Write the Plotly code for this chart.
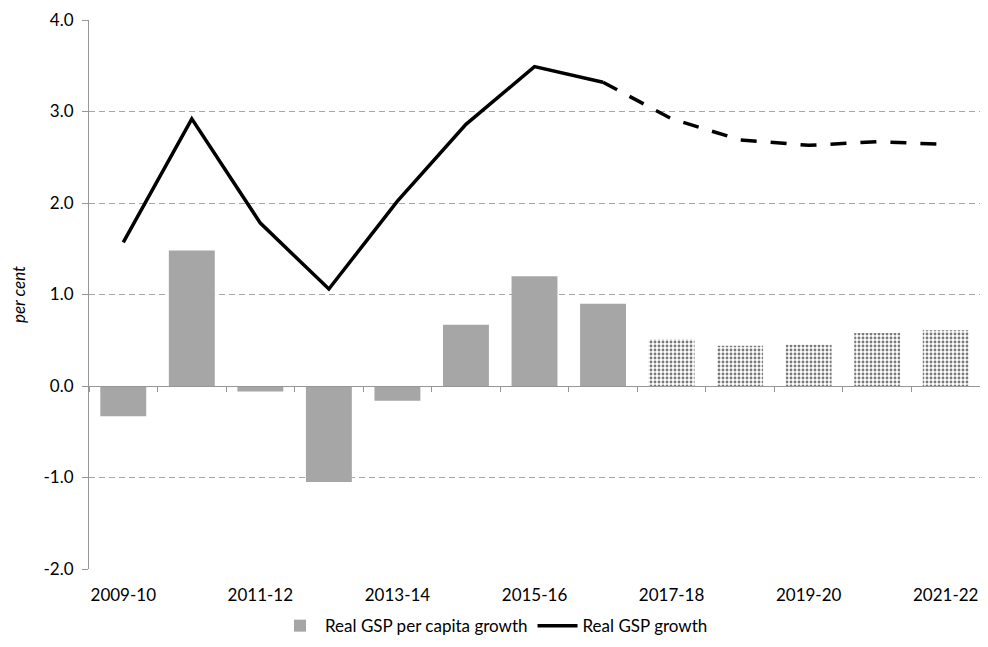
import plotly.graph_objects as go

categories = ["2009-10", "2010-11", "2011-12", "2012-13", "2013-14", "2014-15", "2015-16",
              "2016-17", "2017-18", "2018-19", "2019-20", "2020-21", "2021-22"]
per_capita_growth = [-0.33, 1.48, -0.06, -1.05, -0.16, 0.67, 1.20, 0.90, 0.51, 0.44, 0.45, 0.58, 0.61]
gsp_growth = [1.57, 2.92, 1.78, 1.06, 2.02, 2.86, 3.49, 3.32, 2.92, 2.69, 2.63, 2.67, 2.64]
n_actual = 8  # first 8 years are actuals, remainder forecasts
tick_labels = categories[::2]
y_ticks = [-2, -1, 0, 1, 2, 3, 4]
y_range = [-2, 4]

FONT = "Lato"
GRAY = "#A6A6A6"
AXIS = "#969696"
n = len(categories)

fig = go.Figure()
fig.add_trace(go.Bar(
    x=categories[:n_actual], y=per_capita_growth[:n_actual], name="Real GSP per capita growth",
    marker=dict(color=GRAY, line=dict(width=0)), showlegend=True,
))
fig.add_trace(go.Bar(
    x=categories[n_actual:], y=per_capita_growth[n_actual:], name="Real GSP per capita growth (f)",
    marker=dict(color="white", line=dict(width=0),
                pattern=dict(shape=".", fgcolor="#7a7a7a", bgcolor="white",
                             size=4, solidity=0.4, fillmode="replace")),
    showlegend=False,
))
fig.add_trace(go.Scatter(
    x=categories[:n_actual], y=gsp_growth[:n_actual], mode="lines", name="Real GSP growth",
    line=dict(color="black", width=3.5), showlegend=True,
))
fig.add_trace(go.Scatter(
    x=categories[n_actual - 1:], y=gsp_growth[n_actual - 1:], mode="lines", name="Real GSP growth (f)",
    line=dict(color="black", width=3.5, dash="16px,14px"), showlegend=False,
))
# invisible helper trace so the zero-crossing axis (ticks at category boundaries) is drawn
fig.add_trace(go.Scatter(
    x=[-0.5, n - 0.5], y=[0, 0], xaxis="x2", yaxis="y", mode="markers",
    marker=dict(opacity=0), hoverinfo="skip", showlegend=False,
))

zero_pos = (0 - y_range[0]) / (y_range[1] - y_range[0])

# page body has an 8px default margin on each side, so the figure is sized to fit the window
fig.update_layout(
    width=972, height=631,
    margin=dict(l=81, r=0, t=12, b=70, autoexpand=False),
    plot_bgcolor="white", paper_bgcolor="white",
    bargap=0.33,
    barmode="overlay",
    font=dict(family=FONT, size=17, color="black"),
    xaxis=dict(type="category", categoryorder="array", categoryarray=categories,
               range=[-0.5, n - 0.5], automargin=False,
               tickmode="array", tickvals=tick_labels, ticktext=tick_labels,
               showgrid=False, showline=False, zeroline=False,
               ticks="outside", ticklen=11, tickcolor="rgba(0,0,0,0)",
               tickfont=dict(family=FONT, size=17)),
    xaxis2=dict(overlaying="x", anchor="free", position=zero_pos, range=[-0.5, n - 0.5],
                tickmode="array", tickvals=[i - 0.5 for i in range(n + 1)],
                showticklabels=False, ticks="outside", ticklen=5, tickcolor=AXIS, tickwidth=1,
                showline=True, linecolor=AXIS, linewidth=1, showgrid=False, zeroline=False,
                layer="above traces"),
    yaxis=dict(range=y_range, tickmode="array", tickvals=y_ticks, automargin=False,
               ticktext=[f"{v:.1f}" for v in y_ticks],
               showgrid=True, gridcolor="#A6A6A6", griddash="6px,4px", gridwidth=1,
               showline=True, linecolor=AXIS, linewidth=1,
               ticks="outside", ticklen=6, tickcolor=AXIS, ticklabelstandoff=5,
               zeroline=True, zerolinecolor=AXIS, zerolinewidth=1,
               title=dict(text="<i>per cent</i>", font=dict(family=FONT, size=17), standoff=19),
               tickfont=dict(family=FONT, size=17)),
    legend=dict(orientation="h", xref="container", yref="paper", x=0.5, xanchor="center",
                y=-0.104, yanchor="middle", font=dict(family=FONT, size=17),
                traceorder="normal", itemwidth=40),
)

fig.write_html("out.html")
